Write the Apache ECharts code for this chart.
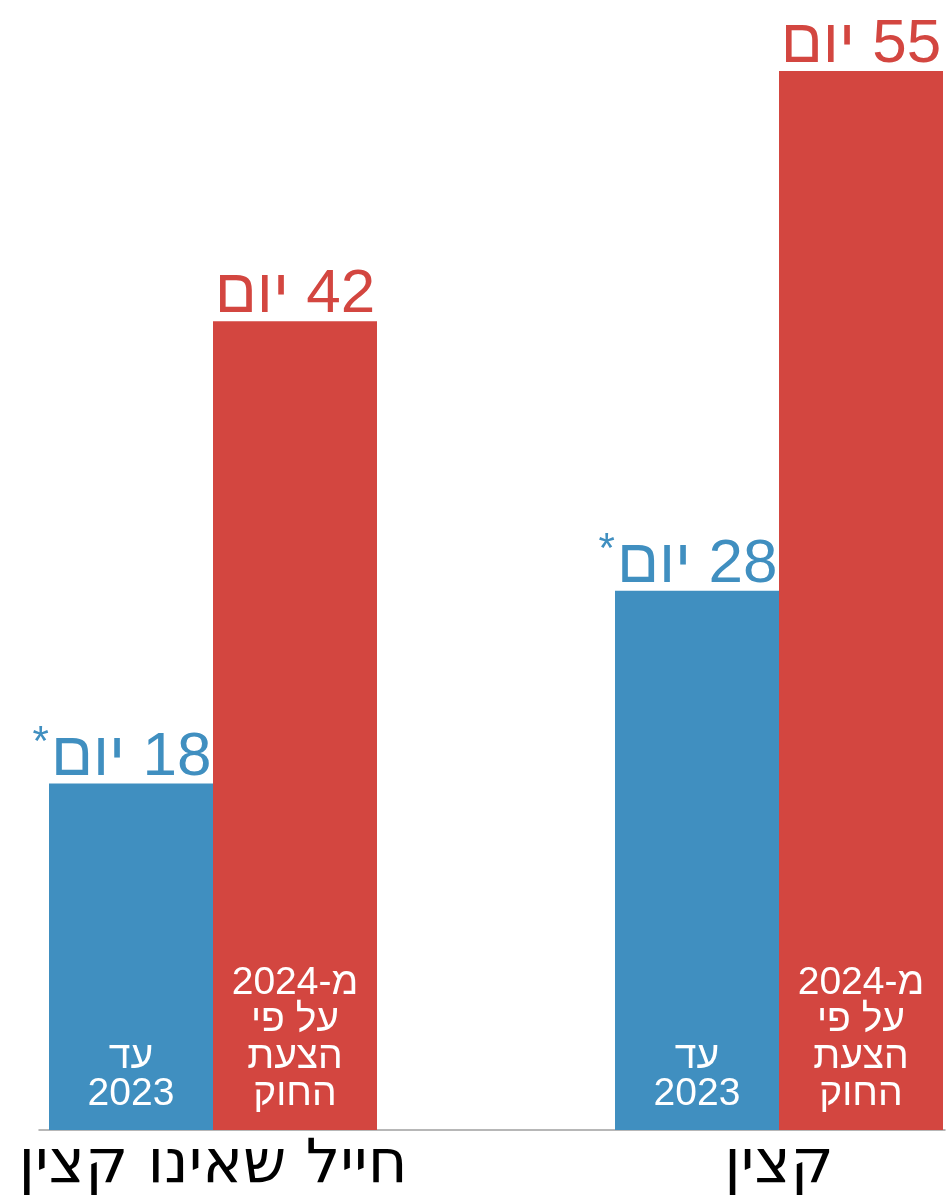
<!DOCTYPE html>
<html lang="he">
<head>
<meta charset="utf-8">
<script src="https://cdn.jsdelivr.net/npm/echarts@6/dist/echarts.min.js"></script>
<style>
  html, body { margin: 0; padding: 0; background: #ffffff; }
  #chart { width: 951px; height: 1201px; }
</style>
</head>
<body>
<div id="chart" dir="rtl"></div>
<script>
// Military service days: before 2023 vs. the proposed law from 2024
const categories = ['חייל שאינו קצין', 'קצין'];
const until2023 = [18, 28];
const from2024 = [42, 55];
const unit = 'יום';
const until2023Name = 'עד\n2023';
const from2024Name = 'מ-2024\nעל פי\nהצעת\nהחוק';

const BLUE = '#408fc0';
const RED = '#d34640';
const FONT = '"Liberation Sans", Arial, sans-serif';

const chart = echarts.init(document.getElementById('chart'), null, { renderer: 'canvas' });

const valueLabel = (color, withStar) => ({
  show: true,
  position: 'top',
  distance: -14,
  offset: withStar ? [-9, 0] : [0, 0],
  formatter: p => (withStar ? '{a|*}' : '') + '{v|' + p.value + ' ' + unit + '}',
  rich: {
    v: { fontFamily: FONT, fontSize: 62, color: color, lineHeight: 80 },
    a: { fontFamily: FONT, fontSize: 42, color: color, lineHeight: 42, verticalAlign: 'top', padding: [5, 2, 0, 0] }
  }
});

const innerLabel = text => ({
  show: true,
  position: 'insideBottom',
  distance: 17,
  formatter: text,
  fontFamily: FONT,
  fontSize: 39,
  lineHeight: 37,
  color: '#ffffff'
});

chart.setOption({
  animation: false,
  backgroundColor: '#ffffff',
  grid: [
    { left: 213, right: 172, top: 71, bottom: 71 },
    { left: 39, right: 6, top: 71, bottom: 71 }
  ],
  xAxis: [
    {
      type: 'category', gridIndex: 0, data: categories, boundaryGap: false,
      axisLine: { show: false }, axisTick: { show: false },
      axisLabel: {
        fontFamily: '"DejaVu Sans", sans-serif',
        fontSize: 61, color: '#000000', margin: 6
      }
    },
    { type: 'category', gridIndex: 0, data: categories, boundaryGap: false, show: false },
    {
      type: 'value', gridIndex: 1, min: 0, max: 1,
      axisLine: { show: true, onZero: false, lineStyle: { color: '#a0a0a0', width: 1.5 } },
      axisTick: { show: false }, axisLabel: { show: false }, splitLine: { show: false }
    }
  ],
  yAxis: [
    { type: 'value', gridIndex: 0, min: 0, max: 55, show: false, splitLine: { show: false } },
    { type: 'value', gridIndex: 1, min: 0, max: 1, show: false, splitLine: { show: false } }
  ],
  series: [
    {
      type: 'bar', xAxisIndex: 0, yAxisIndex: 0, data: until2023,
      barWidth: 164, barGap: '0%', clip: false,
      itemStyle: { color: BLUE },
      label: valueLabel(BLUE, true)
    },
    {
      type: 'bar', xAxisIndex: 0, yAxisIndex: 0, data: from2024,
      barWidth: 164, barGap: '0%', clip: false,
      itemStyle: { color: RED },
      label: valueLabel(RED, false)
    },
    {
      type: 'bar', xAxisIndex: 1, yAxisIndex: 0, data: until2023,
      barWidth: 164, barGap: '0%', clip: false, z: 3,
      itemStyle: { color: 'rgba(0,0,0,0)' },
      label: innerLabel(until2023Name)
    },
    {
      type: 'bar', xAxisIndex: 1, yAxisIndex: 0, data: from2024,
      barWidth: 164, barGap: '0%', clip: false, z: 3,
      itemStyle: { color: 'rgba(0,0,0,0)' },
      label: innerLabel(from2024Name)
    }
  ]
});
</script>
</body>
</html>
